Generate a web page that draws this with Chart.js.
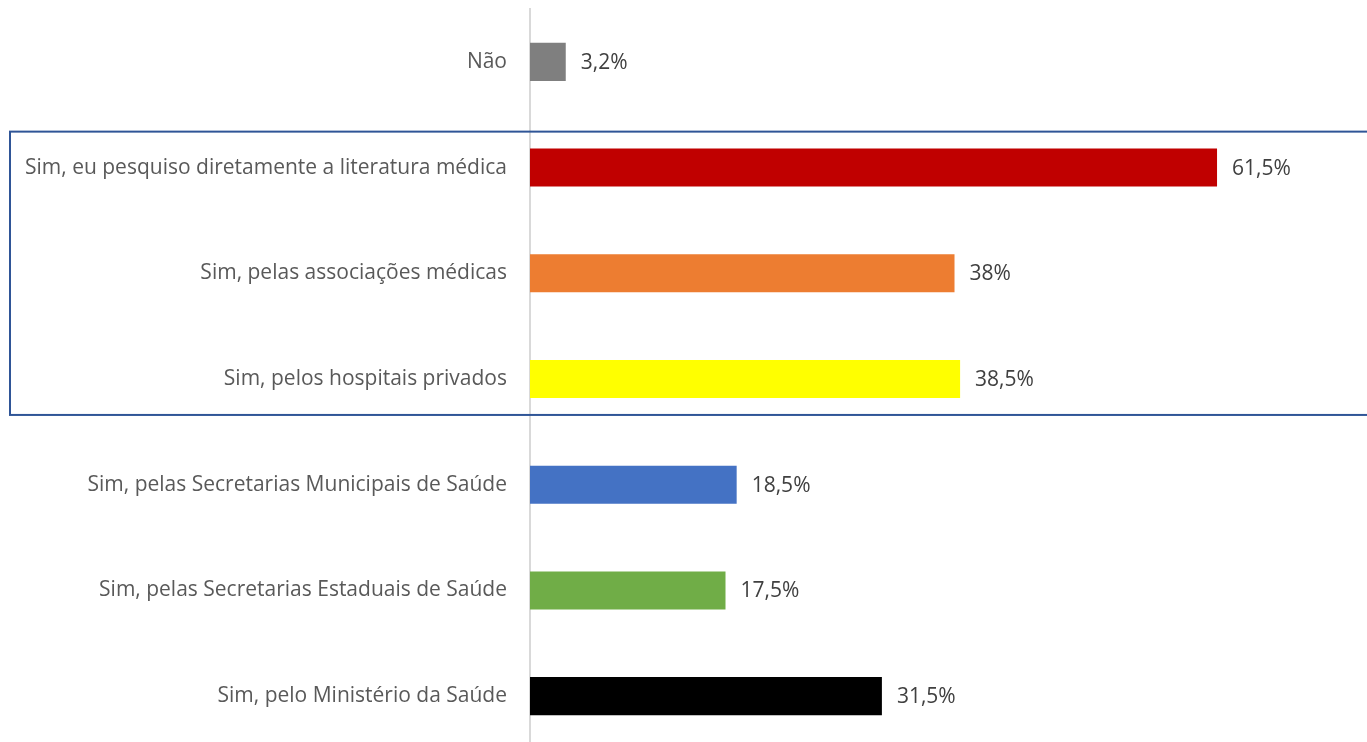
<!DOCTYPE html>
<html>
<head>
<meta charset="utf-8">
<script src="https://cdn.jsdelivr.net/npm/chart.js@4"></script>
<style>
    html, body { margin: 0; padding: 0; background: #fff; overflow: hidden; }
    #wrap { width: 1367px; height: 752px; position: relative; }
</style>
</head>
<body>
<div id="wrap"><canvas id="grafico"></canvas></div>
<script>
// Dados do gráfico
const categorias = [
    'Não',
    'Sim, eu pesquiso diretamente a literatura médica',
    'Sim, pelas associações médicas',
    'Sim, pelos hospitais privados',
    'Sim, pelas Secretarias Municipais de Saúde',
    'Sim, pelas Secretarias Estaduais de Saúde',
    'Sim, pelo Ministério da Saúde'
];
const valores = [3.2, 61.5, 38, 38.5, 18.5, 17.5, 31.5];
const rotulos = ['3,2%', '61,5%', '38%', '38,5%', '18,5%', '17,5%', '31,5%'];
const cores = ['#7f7f7f', '#c00000', '#ed7d31', '#ffff00', '#4472c4', '#70ad47', '#000000'];

const fonte = 'Open Sans';

// Rótulos de valor ao lado das barras
const rotulosPlugin = {
    id: 'rotulos',
    afterDatasetsDraw(chart) {
        const ctx = chart.ctx;
        const meta = chart.getDatasetMeta(0);
        ctx.save();
        ctx.font = '21px "' + fonte + '"';
        ctx.fillStyle = '#404040';
        ctx.textAlign = 'left';
        ctx.textBaseline = 'middle';
        meta.data.forEach((bar, i) => {
            ctx.fillText(rotulos[i], bar.x + 15, bar.y + 1);
        });
        ctx.restore();
    }
};

// Retângulo azul em volta das categorias 1 a 3
const destaquePlugin = {
    id: 'destaque',
    afterDraw(chart) {
        const y = chart.scales.y;
        const passo = y.getPixelForValue(1) - y.getPixelForValue(0);
        const topo = y.getPixelForValue(1) - passo * 0.34;
        const base = y.getPixelForValue(3) + passo * 0.34;
        const ctx = chart.ctx;
        ctx.save();
        ctx.strokeStyle = '#2f5597';
        ctx.lineWidth = 2;
        ctx.strokeRect(10, topo, chart.width + 20, base - topo);
        ctx.restore();
    }
};

const ctx = document.getElementById('grafico').getContext('2d');
new Chart(ctx, {
    type: 'bar',
    data: {
        labels: categorias,
        datasets: [{
            data: valores,
            backgroundColor: cores,
            categoryPercentage: 1,
            barPercentage: 0.36
        }]
    },
    options: {
        indexAxis: 'y',
        responsive: true,
        maintainAspectRatio: false,
        animation: false,
        layout: { padding: { top: 9, bottom: 3, right: 55, left: 0 } },
        plugins: {
            legend: { display: false },
            tooltip: { enabled: false }
        },
        scales: {
            x: {
                display: false,
                min: 0,
                max: 70
            },
            y: {
                afterFit(scale) {
                    scale.width = 530;
                    scale.paddingTop = 0;
                    scale.paddingBottom = 0;
                },
                grid: { display: false, drawTicks: false },
                border: { display: true, color: '#d9d9d9', width: 2 },
                ticks: {
                    padding: 23,
                    color: '#595959',
                    font: { family: fonte, size: 21 }
                }
            }
        }
    },
    plugins: [rotulosPlugin, destaquePlugin]
});
</script>
</body>
</html>
